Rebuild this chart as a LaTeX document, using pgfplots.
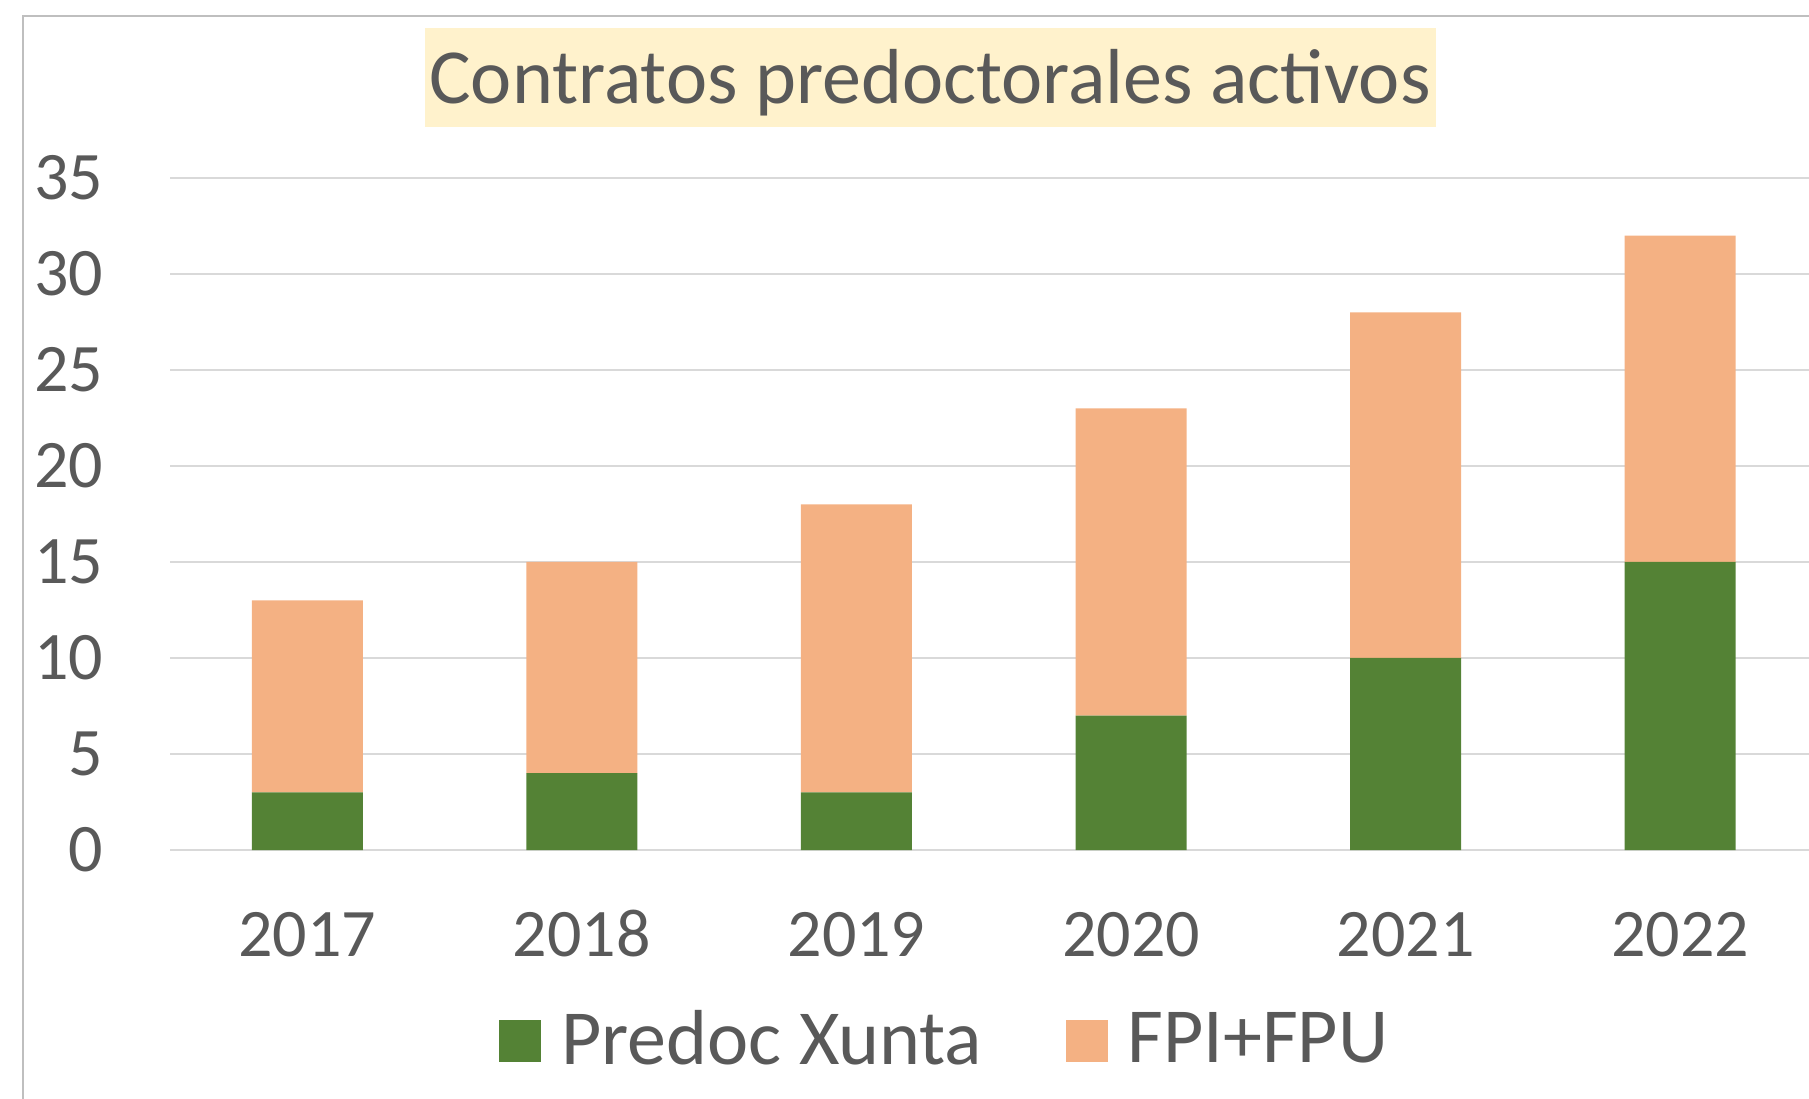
\documentclass[border=0pt]{standalone}
\usepackage{pgfplots}
\pgfplotsset{compat=1.18}
\usepackage{fontspec}
\setmainfont{Carlito}
\definecolor{xgreen}{HTML}{548235}
\definecolor{xorange}{HTML}{F4B183}
\definecolor{txt}{HTML}{595959}
\definecolor{gridc}{HTML}{D9D9D9}
\definecolor{framec}{HTML}{BFBFBF}
\definecolor{titlebg}{HTML}{FFF2CC}
\pgfplotsset{sqlegend/.style={legend image code/.code={\fill[##1] (0pt,-5.25pt) rectangle (10.5pt,5.25pt);}}}
\begin{document}
\begin{tikzpicture}
\useasboundingbox (0pt,0pt) rectangle (452.25pt,-274.75pt);
\begin{scope}[x=0.25pt,y=-0.25pt]
\draw[framec, line width=0.6pt] (1809,16) -- (23,16) -- (23,1099);
\fill[titlebg] (425,28) rectangle (1436,127);
\node[anchor=base, inner sep=0pt, text=txt, font=\fontsize{19.5}{22}\selectfont] at (930,104) {Contratos predoctorales activos};
\end{scope}
\begin{axis}[
  at={(42.5pt,-212.5pt)}, anchor=south west,
  scale only axis, width=409.75pt, height=168pt,
  xmin=-0.5, xmax=5.469, ymin=0, ymax=35,
  ybar stacked, bar width=27.75pt,
  axis line style={draw=none},
  tick style={draw=none},
  ytick={0,5,...,35},
  xtick={0,...,5},
  xticklabels={2017,2018,2019,2020,2021,2022},
  ymajorgrids, grid style={gridc, line width=0.5pt},
  tick label style={text=txt, font=\fontsize{17}{20}\selectfont, inner sep=0pt},
  yticklabel style={anchor=east},
  yticklabel shift=16.5pt,
  xticklabel style={anchor=north, text height=11.25pt, text depth=0pt},
  xticklabel shift=15.25pt,
  /pgf/number format/assume math mode=true,
  legend style={draw=none, fill=none, at={(0.4746,-0.284)}, anchor=center, legend columns=2, font=\fontsize{19.5}{22}\selectfont, text=txt,
    /tikz/every odd column/.append style={column sep=2.9pt},
    /tikz/every even column/.append style={column sep=19pt}},
  clip=false,
]
\addplot[fill=xgreen, draw=none, sqlegend] coordinates {(0,3) (1,4) (2,3) (3,7) (4,10) (5,15)};
\addplot[fill=xorange, draw=none, sqlegend] coordinates {(0,10) (1,11) (2,15) (3,16) (4,18) (5,17)};
\legend{Predoc Xunta, FPI+FPU}
\end{axis}
\end{tikzpicture}
\end{document}
